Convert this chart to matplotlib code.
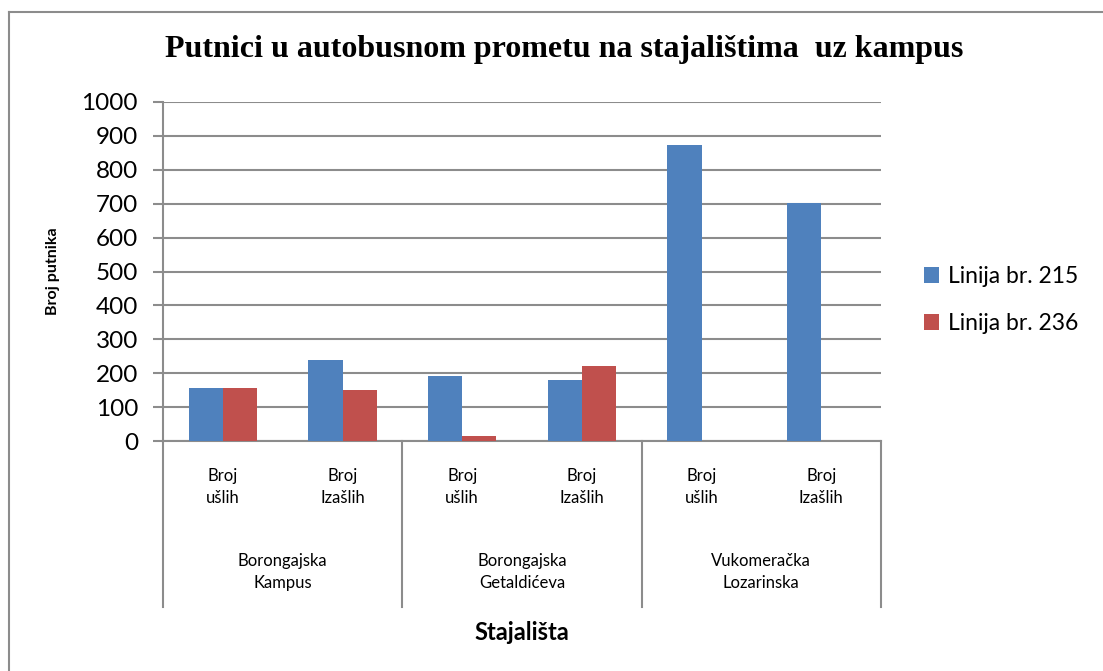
import numpy as np
import matplotlib.pyplot as plt
from matplotlib.lines import Line2D
from matplotlib.transforms import blended_transform_factory

# data
categories = ["Broj\nušlih", "Broj\nIzašlih"] * 3
groups = ["Borongajska\nKampus", "Borongajska\nGetaldićeva", "Vukomeračka\nLozarinska"]
linija_215 = [156, 239, 193, 180, 874, 703]
linija_236 = [156, 150, 15, 221, 0, 0]
series_names = ["Linija br. 215", "Linija br. 236"]

blue = "#4f81bd"
red = "#c0504d"
grey = "#8c8c8c"
font = "Lato"

W, H = 1103, 671
fig = plt.figure(figsize=(W / 100, H / 100), dpi=100)

# axes box in pixel coords: x 163-881, y 102-441
ax = fig.add_axes([163 / W, 1 - 441 / H, (881 - 163) / W, (441 - 102) / H])

x = np.arange(len(categories))
bw = 0.285
ax.bar(x - bw / 2, linija_215, bw, color=blue, label=series_names[0], zorder=3)
ax.bar(x + bw / 2, linija_236, bw, color=red, label=series_names[1], zorder=3)

ax.set_xlim(-0.5, len(categories) - 0.5)
ax.set_ylim(0, 1000)
ax.set_yticks(range(0, 1001, 100))
ax.set_yticklabels([str(v) for v in range(0, 1001, 100)], fontsize=17.5, family=font)
ax.tick_params(axis="y", length=7, width=1.5, color=grey, pad=11)
ax.set_xticks([])
ax.grid(axis="y", color=grey, linewidth=1.5, zorder=0)
for s in ["top", "right"]:
    ax.spines[s].set_visible(False)
for s in ["left", "bottom"]:
    ax.spines[s].set_color(grey)
    ax.spines[s].set_linewidth(1.5)

# category / group labels below the axis
trans = blended_transform_factory(ax.transData, ax.transAxes)
px = 1 / (441 - 102)
for xi, lab in zip(x, categories):
    ax.text(xi, -(487 - 441) * px, lab, transform=trans, ha="center", va="center",
            fontsize=12, family=font, linespacing=1.45)
for gi, g in enumerate(groups):
    ax.text(2 * gi + 0.5, -(572 - 441) * px, g, transform=trans, ha="center", va="center",
            fontsize=12, family=font, linespacing=1.45)
for sep in [-0.5, 1.5, 3.5, 5.5]:
    ax.add_line(Line2D([sep, sep], [0, -(607 - 441) * px], transform=trans,
                       color=grey, linewidth=1.5, clip_on=False))

ax.set_xlabel("Stajališta", fontsize=17, fontweight="bold", family=font)
ax.xaxis.set_label_coords(0.5, -(632 - 441) * px)
ax.xaxis.label.set_va("center")
ax.set_ylabel("Broj putnika", fontsize=11.5, fontweight="bold", family=font)
ax.yaxis.set_label_coords(-(163 - 53) / (881 - 163), 0.5)
ax.yaxis.label.set_va("center")

fig.text(564 / W, 1 - 50 / H, "Putnici u autobusnom prometu na stajalištima  uz kampus",
         ha="center", va="center", fontsize=23, fontweight="bold", family="Liberation Serif")

fig.legend(loc="center left", bbox_to_anchor=(903 / W, 1 - 300 / H), frameon=False,
           prop={"family": font, "size": 16.5}, handlelength=0.66, handleheight=0.66,
           labelspacing=1.15, handletextpad=0.4)

# chart border: only top and left edges are visible in the picture
fig.add_artist(Line2D([9 / W, 1], [1 - 12 / H, 1 - 12 / H], color=grey, linewidth=1.5))
fig.add_artist(Line2D([9 / W, 9 / W], [0, 1 - 12 / H], color=grey, linewidth=1.5))

fig.savefig("out.png", dpi=100, facecolor="white")
